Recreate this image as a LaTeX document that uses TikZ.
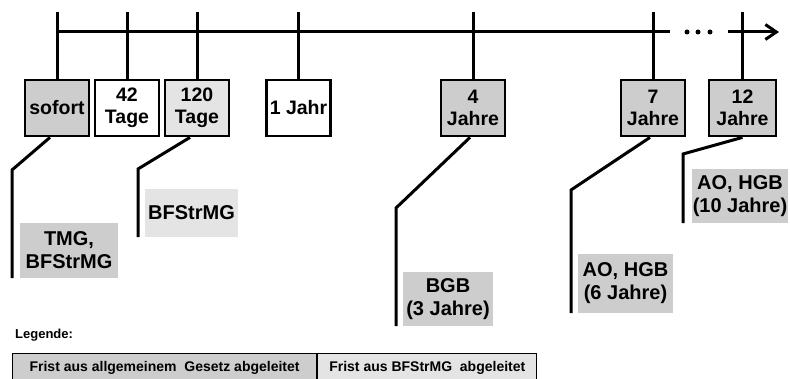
\documentclass[tikz,border=0pt]{standalone}
\usepackage{fontspec}
\setmainfont{Liberation Sans}
\usepackage{tikz}
\usetikzlibrary{positioning,arrows.meta,calc}
\usepackage{xcolor}
\definecolor{allgfill}{RGB}{205,205,205}
\definecolor{bfsfill}{RGB}{228,228,228}

\begin{document}
\begin{tikzpicture}[
    x=1pt, y=-1pt,
    period/.style={rectangle, draw, line width=2.8pt, minimum width=64pt, minimum height=56pt, inner sep=0pt, align=center, font=\fontsize{19.5}{22}\selectfont\bfseries},
    rule/.style={rectangle, inner sep=0pt, align=center, font=\fontsize{20}{23}\selectfont\bfseries},
    bar/.style={line width=3pt},
    legend cell/.style={rectangle, draw, line width=1.2pt, minimum height=28pt, inner sep=0pt, font=\fontsize{14}{16}\selectfont\bfseries}
]
\useasboundingbox (0,0) rectangle (790,379);

\node[period, fill=allgfill] (sofort) at (57,108) {sofort};
\node[period] (tage42) at (127,108) {42\\Tage};
\node[period, fill=bfsfill] (tage120) at (197,108) {120\\Tage};
\node[period] (jahr1) at (298.5,108) {1 Jahr};
\node[period, fill=allgfill] (jahre4) at (473,108) {4\\Jahre};
\node[period, fill=allgfill] (jahre7) at (653,108) {7\\Jahre};
\node[period, fill=allgfill, minimum width=67pt] (jahre12) at (742.5,108) {12\\Jahre};

\coordinate (top) at (0,12);
\foreach \p in {sofort,tage42,tage120,jahr1,jahre4,jahre7,jahre12}
    \draw[bar] (\p.north) -- (\p.north |- top);

\coordinate (tlstart) at (57,32);
\coordinate (tlgap) at (670,32);
\coordinate (tlresume) at (728,32);
\coordinate (tlend) at (779,32);
\draw[bar] (tlstart) -- (tlgap);
\draw[bar, -{Straight Barb[length=11pt,width=15pt]}] (tlresume) -- (tlend);
\foreach \x in {687,698,710}
    \fill (\x,32) circle (2.5pt);

\node[rule, fill=allgfill, minimum width=98pt, minimum height=55pt] (tmg) at (69,250.5) {TMG,\\BFStrMG};
\node[rule, fill=bfsfill, minimum width=93pt, minimum height=48pt] (bfstrmg) at (191.5,213) {BFStrMG};
\node[rule, fill=allgfill, minimum width=90pt, minimum height=54pt] (bgb) at (448,299) {BGB\\(3 Jahre)};
\node[rule, fill=allgfill, minimum width=95pt, minimum height=59pt] (aohgb6) at (625.5,283.5) {AO, HGB\\(6 Jahre)};
\node[rule, fill=allgfill, minimum width=96pt, minimum height=54pt] (aohgb10) at (740,196) {AO, HGB\\(10 Jahre)};

\coordinate (k1) at (12,170);
\coordinate (k2) at (138,169);
\coordinate (k3) at (396,208);
\coordinate (k4) at (571,190);
\coordinate (k5) at (683,154);
\draw[bar] ([xshift=-7pt]sofort.south) -- (k1) -- (k1 |- tmg.south);
\draw[bar] ([xshift=-7pt]tage120.south) -- (k2) -- (k2 |- bfstrmg.south);
\draw[bar] ([xshift=-3pt]jahre4.south) -- (k3) -- (k3 |- bgb.south);
\draw[bar] ([xshift=-3pt]jahre7.south) -- (k4) -- (k4 |- aohgb6.south);
\draw[bar] (jahre12.south) -- (k5) -- (k5 |- aohgb10.south);

\node[anchor=west, inner sep=0pt, font=\fontsize{13}{15}\selectfont\bfseries] (legende) at (15,335) {Legende:};
\node[legend cell, fill=allgfill, minimum width=304pt, anchor=north west] (legallg) at (12,353) {Frist aus allgemeinem\ \ Gesetz abgeleitet};
\node[legend cell, fill=bfsfill, minimum width=219pt, anchor=north west] (legbfs) at (legallg.north east) {Frist aus BFStrMG\ \ abgeleitet};
\end{tikzpicture}
\end{document}
